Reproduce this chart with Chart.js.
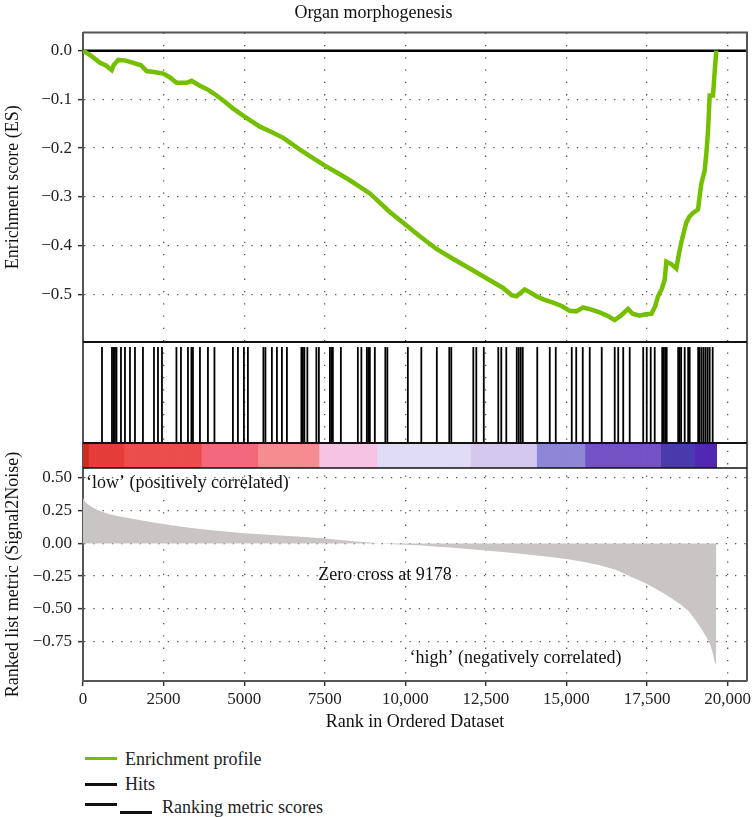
<!DOCTYPE html>
<html>
<head>
<meta charset="utf-8">
<script src="https://cdn.jsdelivr.net/npm/chart.js@4.4.1/dist/chart.umd.min.js"></script>
<style>
  body { margin: 0; background: #fff; }
  #wrap { position: relative; width: 754px; height: 817px; font-family: 'Liberation Serif', 'Times New Roman', serif; }
  #chart { position: absolute; left: 0; top: 0; }
  .leg { position: absolute; font-size: 18px; line-height: 20px; color: #222; white-space: nowrap; }
  .sw { position: absolute; height: 3px; }
</style>
</head>
<body>
<div id="wrap">
  <canvas id="chart" width="754" height="740"></canvas>
  <div class="sw" style="left:85px;top:757px;width:32px;background:#74bf00"></div>
  <div class="leg" style="left:125px;top:749px">Enrichment profile</div>
  <div class="sw" style="left:85px;top:783px;width:32px;background:#111"></div>
  <div class="leg" style="left:125px;top:774px">Hits</div>
  <div class="sw" style="left:85px;top:803px;width:32px;background:#111"></div>
  <div class="sw" style="left:120px;top:811px;width:32px;background:#111"></div>
  <div class="leg" style="left:162px;top:797px">Ranking metric scores</div>
</div>
<script>
// Running enrichment score
const esRank = [0, 150, 300, 527, 700, 889, 950, 1095, 1300, 1560, 1800, 1974, 2200, 2490, 2700, 2904, 3215, 3370, 3628, 3900,
  4145, 4400, 4661, 5023, 5488, 5850, 6212, 6729, 7100, 7504, 7900, 8279, 8899, 9209, 9500, 9932, 10450, 10966, 11500, 12000,
  12516, 13033, 13300, 13447, 13705, 13900, 14068, 14300, 14584, 14850, 15101, 15300, 15514, 15750, 16031, 16300, 16496, 16700, 16910, 17050,
  17271, 17450, 17634, 17750, 17840, 17950, 18047, 18098, 18250, 18408, 18480, 18563, 18650, 18718, 18820, 18925, 19080, 19130, 19183, 19240,
  19287, 19340, 19390, 19442, 19545, 19600, 19649];
const esScore = [0, -0.006, -0.013, -0.025, -0.030, -0.040, -0.030, -0.019, -0.020, -0.025, -0.030, -0.042, -0.044, -0.047, -0.055, -0.066, -0.066, -0.062, -0.072, -0.081,
  -0.092, -0.105, -0.119, -0.136, -0.156, -0.167, -0.179, -0.203, -0.219, -0.236, -0.251, -0.266, -0.293, -0.312, -0.330, -0.353, -0.381, -0.407, -0.428, -0.447,
  -0.467, -0.487, -0.502, -0.504, -0.490, -0.497, -0.504, -0.511, -0.517, -0.524, -0.534, -0.535, -0.527, -0.531, -0.537, -0.545, -0.553, -0.543, -0.530, -0.540,
  -0.544, -0.541, -0.540, -0.525, -0.504, -0.490, -0.470, -0.433, -0.438, -0.447, -0.420, -0.393, -0.370, -0.353, -0.340, -0.333, -0.326, -0.300, -0.273, -0.258,
  -0.246, -0.210, -0.166, -0.092, -0.092, -0.040, 0.0];

// Gene set members (hits) in the ranked list
const hitRanks = [589, 899, 946, 992, 1039, 1178, 1302, 1457, 1612, 1860, 2202, 2326, 2450, 2899, 3039, 3256, 3364, 3411, 3628, 3876,
  4078, 4651, 4806, 4992, 5116, 5597, 5659, 5860, 6016, 6171, 6326, 6775, 6822, 6868, 6961, 7240, 7318, 7659, 7706, 7752,
  8000, 8527, 8636, 8806, 8853, 8899, 9054, 9380, 9442, 10078, 10496, 10977, 11364, 11426, 12109, 12202, 12434, 12884, 12977, 13132,
  13457, 13519, 13581, 13643, 14093, 14481, 14667, 15163, 15302, 15504, 15721, 16093, 16496, 16605, 16760, 16961, 17380, 17489, 17613, 17737,
  17969, 18016, 18062, 18109, 18465, 18512, 18558, 18667, 18775, 18822, 19085, 19132, 19194, 19256, 19318, 19380, 19442, 19535];

// Ranked list metric (Signal2Noise)
const metricRank = [0, 60, 150, 300, 500, 800, 1100, 1500, 2000, 2500, 3000, 3500, 4000, 4500, 5000, 5500, 6000, 6500, 7000, 7500,
  8000, 8500, 9000, 9178, 9500, 10000, 10500, 11000, 11500, 12000, 12500, 13000, 13500, 14000, 14500, 15000, 15500, 16000, 16500, 17000,
  17500, 18000, 18500, 18800, 19000, 19200, 19350, 19450, 19530, 19590, 19640, 19650];
const metricValue = [0.345, 0.32, 0.30, 0.275, 0.25, 0.225, 0.208, 0.19, 0.168, 0.148, 0.13, 0.113, 0.10, 0.088, 0.078, 0.07, 0.062, 0.054, 0.046, 0.037,
  0.026, 0.015, 0.005, 0, -0.004, -0.01, -0.017, -0.025, -0.034, -0.045, -0.055, -0.066, -0.078, -0.091, -0.105, -0.12, -0.14, -0.165, -0.2, -0.255,
  -0.31, -0.38, -0.46, -0.52, -0.585, -0.66, -0.72, -0.77, -0.83, -0.9, -0.93, -0.93];

// Colour bar bands (start rank of each band)
const bandStart = [0, 200, 1300, 3690, 5430, 7350, 9150, 12050, 14080, 15570, 17950, 19000];
const bandColour = ['#d02c1e', '#e53d3a', '#ec4d4d', '#f3687b', '#f68c90', '#f6c3e2', '#e0dcf5', '#d5c8ee', '#8e86d6', '#7452c4', '#4a3aae', '#5228b2'];
const nGenes = 19650;

const xTicks = [0, 2500, 5000, 7500, 10000, 12500, 15000, 17500, 20000];
const xTickLabels = ['0', '2500', '5000', '7500', '10,000', '12,500', '15,000', '17,500', '20,000'];
const esTicks = [0, -0.1, -0.2, -0.3, -0.4, -0.5];
const esTickLabels = ['0.0', '\u22120.1', '\u22120.2', '\u22120.3', '\u22120.4', '\u22120.5'];
const rankTicks = [0.5, 0.25, 0, -0.25, -0.5, -0.75];
const rankTickLabels = ['0.50', '0.25', '0.00', '\u22120.25', '\u22120.50', '\u22120.75'];

const noteText = ['\u2018low\u2019 (positively correlated)', 'Zero cross at 9178', '\u2018high\u2019 (negatively correlated)'];
const noteRank = [90, 9370, 13420];
const noteValue = [0.46, -0.242, -0.877];

const xMax = 20600;
const serif = "'Liberation Serif', 'Times New Roman', serif";
const frameColor = '#555';

// colour bar as floating bars, one every 50 ranks
const colourStep = 50;
const barData = [];
const barColours = [];
for (let s = 0; s < nGenes; s += colourStep) {
    let k = 0;
    while (k + 1 < bandStart.length && bandStart[k + 1] <= s) k++;
    barData.push({ x: s + colourStep / 2, y: [0, 1] });
    barColours.push(bandColour[k]);
}

// no extra label padding around the plot area
function noPad(s) {
    s.paddingLeft = 0;
    s.paddingRight = 0;
    s.paddingTop = 0;
    s.paddingBottom = 0;
}

// frame, panel separators and notes in the lower panel
const framePlugin = {
    id: 'frame',
    afterDatasetsDraw(chart) {
        const { ctx, chartArea: a, scales } = chart;
        ctx.save();
        ctx.strokeStyle = frameColor;
        ctx.lineWidth = 2;
        ctx.beginPath();
        ctx.moveTo(a.left, a.top);
        ctx.lineTo(a.right, a.top);
        ctx.lineTo(a.right, a.bottom);
        ctx.stroke();

        ctx.strokeStyle = '#111';
        [scales.yHits.top, scales.yBar.top, scales.yRank.top].forEach((y, i) => {
            ctx.lineWidth = i < 2 ? 2 : 1.5;
            ctx.beginPath();
            ctx.moveTo(a.left, y);
            ctx.lineTo(a.right, y);
            ctx.stroke();
        });

        ctx.fillStyle = '#111';
        ctx.font = '18px ' + serif;
        ctx.textBaseline = 'middle';
        noteText.forEach((t, i) => {
            ctx.textAlign = i === 0 ? 'left' : 'center';
            ctx.fillText(t, scales.x.getPixelForValue(noteRank[i]), scales.yRank.getPixelForValue(noteValue[i]));
        });
        ctx.restore();
    }
};

function leftAxis(weight, stackWeight, min, max) {
    return {
        type: 'linear', position: 'left', stack: 'gsea', stackWeight: stackWeight, weight: weight,
        min: min, max: max,
        afterFit: s => { s.width = 83; noPad(s); },
        ticks: { display: false },
        grid: { display: false },
        border: { color: frameColor, width: 2 }
    };
}

const yES = leftAxis(4, 309.5, -0.598, 0.037);
yES.afterBuildTicks = s => { s.ticks = esTicks.map(v => ({ value: v })); };
yES.ticks = { padding: 6, color: '#222', font: { family: serif, size: 17 }, callback: (v, i) => esTickLabels[i] };
yES.grid = { color: '#555', lineWidth: 1.3, tickLength: 5, tickColor: '#333', tickWidth: 1.5 };
yES.border = { color: frameColor, width: 2, dash: [1.3, 8] };
yES.title = { display: true, text: 'Enrichment score (ES)', color: '#111', font: { family: serif, size: 18 }, padding: { top: 2, bottom: 0 } };

const yRank = leftAxis(1, 213, -1.052, 0.576);
yRank.afterBuildTicks = s => { s.ticks = rankTicks.map(v => ({ value: v })); };
yRank.ticks = { padding: 6, color: '#222', font: { family: serif, size: 17 }, callback: (v, i) => rankTickLabels[i] };
yRank.grid = { color: '#555', lineWidth: 1.3, tickLength: 5, tickColor: '#333', tickWidth: 1.5 };
yRank.border = { color: frameColor, width: 2, dash: [1.3, 8] };
yRank.title = { display: true, text: 'Ranked list metric (Signal2Noise)', color: '#111', font: { family: serif, size: 18 }, padding: { top: 2, bottom: 0 } };

document.addEventListener('DOMContentLoaded', function () {
    new Chart(document.getElementById('chart'), {
        type: 'line',
        data: {
            datasets: [
                {
                    label: 'Enrichment profile', type: 'line', yAxisID: 'yES',
                    data: esRank.map((r, i) => ({ x: r, y: esScore[i] })),
                    borderColor: '#74bf00', borderWidth: 4.5, pointRadius: 0, tension: 0, order: 0
                },
                {
                    label: 'zero', type: 'line', yAxisID: 'yES',
                    data: [{ x: 0, y: 0 }, { x: xMax, y: 0 }],
                    borderColor: '#000', borderWidth: 2.5, pointRadius: 0, order: 1
                },
                {
                    label: 'Hits', type: 'scatter', yAxisID: 'yHits',
                    data: hitRanks.map(r => ({ x: r, y: 0.475 })),
                    pointStyle: 'line', pointRotation: 90, pointRadius: 48,
                    pointBorderWidth: 1.8, pointBorderColor: '#000', pointBackgroundColor: '#000', order: 2
                },
                {
                    label: 'colour', type: 'bar', yAxisID: 'yBar',
                    data: barData, backgroundColor: barColours,
                    barPercentage: 1, categoryPercentage: 1, grouped: false,
                    borderWidth: 0, inflateAmount: 0.6, order: 3
                },
                {
                    label: 'Ranking metric scores', type: 'line', yAxisID: 'yRank',
                    data: metricRank.map((r, i) => ({ x: r, y: metricValue[i] })),
                    fill: 'origin', backgroundColor: '#c9c5c5',
                    borderWidth: 0, pointRadius: 0, order: 4
                }
            ]
        },
        options: {
            responsive: false,
            animation: false,
            events: [],
            layout: { autoPadding: false, padding: { left: 0, right: 7, top: 0, bottom: 3 } },
            plugins: {
                legend: { display: false },
                tooltip: { enabled: false },
                title: {
                    display: true, text: 'Organ morphogenesis', color: '#111',
                    font: { family: serif, size: 18, weight: 'normal' },
                    padding: { top: 2, bottom: 9 }
                }
            },
            scales: {
                x: {
                    type: 'linear', min: 0, max: xMax, offset: false,
                    afterBuildTicks: s => { s.ticks = xTicks.map(v => ({ value: v })); },
                    afterFit: s => { s.height = 56; noPad(s); },
                    ticks: { autoSkip: false, maxRotation: 0, padding: 3, color: '#222', font: { family: serif, size: 17 }, callback: (v, i) => xTickLabels[i] },
                    grid: { offset: false, color: '#555', lineWidth: 1.3, tickLength: 5, tickColor: '#333', tickWidth: 1.5 },
                    border: { color: frameColor, width: 2, dash: [1.3, 11] },
                    title: { display: true, text: 'Rank in Ordered Dataset', color: '#111', font: { family: serif, size: 18 }, padding: { top: 0, bottom: 4 } }
                },
                yES: yES,
                yHits: leftAxis(3, 101, 0, 1),
                yBar: leftAxis(2, 25, 0, 1),
                yRank: yRank
            }
        },
        plugins: [framePlugin]
    });
});
</script>
</body>
</html>
